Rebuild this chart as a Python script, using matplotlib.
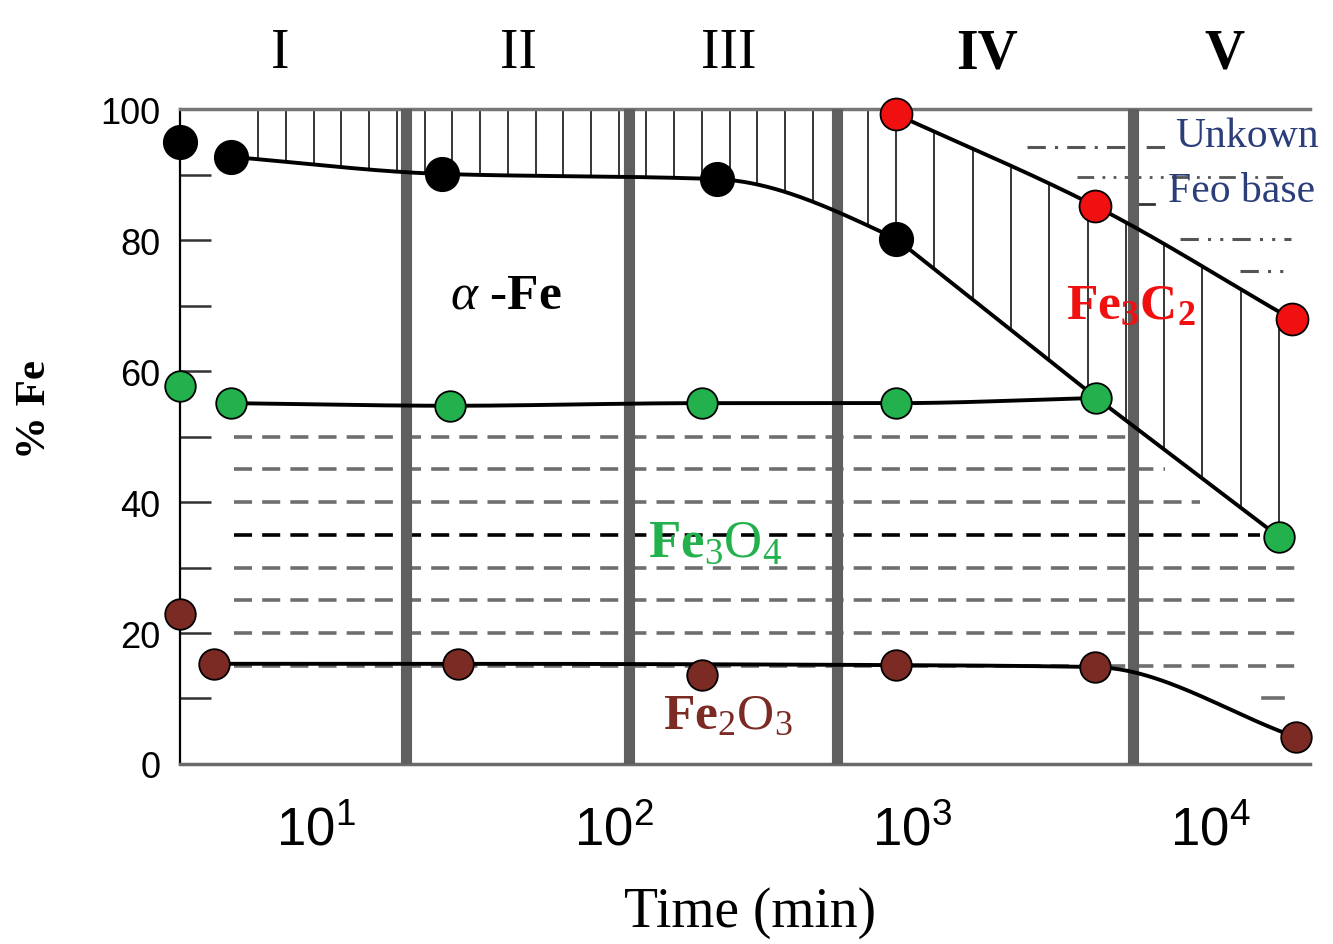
import numpy as np
import matplotlib.pyplot as plt
from matplotlib.ticker import NullLocator
from matplotlib.transforms import blended_transform_factory

# --- data (time in min, % Fe) ---
black_t = [3.5, 5.2, 26.5, 222, 884]
black_fe = [95.0, 92.7, 90.1, 89.3, 80.2]

red_t = [884, 4110, 18800]
red_fe = [99.2, 85.2, 67.9]

green_t = [3.5, 5.2, 28.2, 197, 884, 4150, 17000]
green_fe = [57.7, 55.1, 54.7, 55.1, 55.1, 55.9, 34.7]

brown_t = [3.5, 4.55, 30, 197, 884, 4110, 19400]
brown_fe = [22.9, 15.3, 15.3, 13.6, 15.1, 14.8, 4.1]

region_bounds = [20, 112, 560, 5500]
region_labels = ["I", "II", "III", "IV", "V"]
region_label_t = [7.6, 47.7, 243, 1780, 11200]

dash_levels = [50, 45, 40, 35, 30, 25, 20, 15]
dash_end_t = [5500, 7070, 9260, 14700, 19300, 19300, 19300, 19300]

GREEN = "#22b14c"
RED = "#f01010"
BROWN = "#7b2a24"
BAR = "#5f5f5f"
SERIF = "Liberation Serif"


def pchip(x, y, xn):
    # monotone cubic through points, in log-time
    x = np.log10(np.asarray(x, float))
    y = np.asarray(y, float)
    xn = np.log10(np.asarray(xn, float))
    h = np.diff(x)
    d = np.diff(y) / h
    m = np.zeros(len(x))
    m[0], m[-1] = d[0], d[-1]
    for k in range(1, len(x) - 1):
        if d[k - 1] * d[k] > 0:
            w1 = 2 * h[k] + h[k - 1]
            w2 = h[k] + 2 * h[k - 1]
            m[k] = (w1 + w2) / (w1 / d[k - 1] + w2 / d[k])
    i = np.clip(np.searchsorted(x, xn) - 1, 0, len(x) - 2)
    s = (xn - x[i]) / h[i]
    h00 = 2 * s**3 - 3 * s**2 + 1
    h10 = s**3 - 2 * s**2 + s
    h01 = -2 * s**3 + 3 * s**2
    h11 = s**3 - s**2
    return h00 * y[i] + h10 * h[i] * m[i] + h01 * y[i + 1] + h11 * h[i] * m[i + 1]


def alpha_curve(t_pts, fe_pts, xn):
    # smooth up to the 10^3 point, straight segments after it
    xn = np.asarray(xn, float)
    k = 4
    out = pchip(t_pts[:k + 1], fe_pts[:k + 1], np.minimum(xn, t_pts[k]))
    lin = np.interp(np.log10(xn), np.log10(t_pts[k - 1:]), fe_pts[k - 1:])
    return np.where(xn > t_pts[k - 1], lin, out)


plt.rcParams["font.family"] = ["Liberation Sans", "DejaVu Sans"]
plt.rcParams["mathtext.fontset"] = "custom"
plt.rcParams["mathtext.rm"] = SERIF
plt.rcParams["mathtext.it"] = SERIF + ":italic"
plt.rcParams["mathtext.bf"] = SERIF + ":bold"
plt.rcParams["mathtext.sf"] = "Liberation Sans"

fig = plt.figure(figsize=(13.33, 9.45), dpi=100)
ax = fig.add_axes([0.135, 0.1905, 0.848, 0.693])
ax.set_xscale("log")
ax.set_xlim(3.5, 21670)
ax.set_ylim(0, 100)

# curves
alpha_t = black_t[1:] + green_t[-2:]
alpha_fe = black_fe[1:] + green_fe[-2:]
tt = np.geomspace(alpha_t[0], alpha_t[-1], 400)
ax.plot(tt, alpha_curve(alpha_t, alpha_fe, tt), color="k", lw=2.8, zorder=4)

tt = np.geomspace(red_t[0], red_t[-1], 200)
ax.plot(tt, pchip(red_t, red_fe, tt), color="k", lw=2.8, zorder=4)

tt = np.geomspace(green_t[1], green_t[-2], 300)
ax.plot(tt, pchip(green_t[1:-1], green_fe[1:-1], tt), color="k", lw=2.8, zorder=4)

b_idx = [1, 2, 4, 5, 6]
bt = [brown_t[i] for i in b_idx]
bf = [brown_fe[i] for i in b_idx]
tt = np.geomspace(bt[0], bt[-1], 300)
ax.plot(tt, pchip(bt, bf, tt), color="k", lw=2.8, zorder=4)

# vertical hatching
hx = np.geomspace(6.4, 884, 24)[:-1]
ax.vlines(hx, alpha_curve(alpha_t, alpha_fe, hx), 100, color="k", lw=1.1, zorder=2)
hx = np.geomspace(884, 17000, 11)
ax.vlines(hx, alpha_curve(alpha_t, alpha_fe, hx), pchip(red_t, red_fe, hx),
          color="k", lw=1.1, zorder=2)

# dashed levels
for lvl, end in zip(dash_levels, dash_end_t):
    c = "k" if lvl == 35 else "#6e6e6e"
    ax.plot([5.3, end], [lvl, lvl], ls=(0, (5, 2.8)), lw=2.6, color=c, zorder=1)
ax.plot([15000, 17500], [10, 10], color="#6e6e6e", lw=2.6, zorder=1)

# faint legend remnants top right
ax.plot([2430, 7400], [94.2, 94.2], ls=(0, (6, 3, 1, 3)), color="#555555", lw=2.2, zorder=1)
ax.plot([3570, 18600], [89.6, 89.6], ls=(0, (6, 3, 1, 3, 1, 3)), color="#555555", lw=2.0, zorder=1)
ax.plot([5500, 6500], [85.5, 85.5], color="#333333", lw=2.0, zorder=1)
ax.plot([7930, 18600], [80.2, 80.2], ls=(0, (6, 3, 1, 3, 1, 3)), color="#555555", lw=2.2, zorder=1)
ax.plot([12600, 18600], [75.3, 75.3], ls=(0, (6, 3, 1, 3, 1, 3)), color="#555555", lw=2.2, zorder=1)
ax.text(7600, 96.0, "Unkown", family=SERIF, fontsize=30, color="#2c3e7a",
        ha="left", va="center", clip_on=False, zorder=3)
ax.text(7200, 87.5, "Feo base", family=SERIF, fontsize=30, color="#2c3e7a",
        ha="left", va="center", clip_on=False, zorder=3)

# region separators
for b in region_bounds:
    ax.axvline(b, color=BAR, lw=8, zorder=3)

# markers
mk = dict(ls="none", marker="o", mec="k", mew=1.3, clip_on=False, zorder=6)
ax.plot(black_t, black_fe, ms=24, mfc="k", **mk)
ax.plot(red_t, red_fe, ms=23, mfc=RED, **mk)
ax.plot(green_t, green_fe, ms=22, mfc=GREEN, **mk)
ax.plot(brown_t, brown_fe, ms=22, mfc=BROWN, **mk)

# region labels
trans = blended_transform_factory(ax.transData, ax.transAxes)
for lab, t in zip(region_labels, region_label_t):
    w = "bold" if lab in ("IV", "V") else "normal"
    ax.text(t, 1.085, lab, transform=trans, family=SERIF, fontsize=40,
            weight=w, ha="center", va="center")

# phase labels
ax.text(43.5, 71.5, r"$\alpha$ -Fe", family=SERIF, weight="bold", fontsize=37,
        ha="center", va="center", zorder=7)
ax.text(5430, 70.2, r"$\mathbf{Fe_3C_2}$", color=RED, fontsize=37,
        ha="center", va="center", zorder=7)
ax.text(219, 34.0, r"$\mathbf{Fe}_3\mathrm{O}_4$", color=GREEN, fontsize=38,
        ha="center", va="center", zorder=7)
ax.text(241, 7.5, r"$\mathbf{Fe}_2\mathrm{O}_3$", color=BROWN, fontsize=37,
        ha="center", va="center", zorder=7)

# axes styling
ax.spines["right"].set_visible(False)
ax.spines["top"].set_color("#777777")
ax.spines["top"].set_linewidth(2.5)
ax.spines["bottom"].set_color("#6a6a6a")
ax.spines["bottom"].set_linewidth(2.5)
ax.spines["left"].set_linewidth(1.6)

ax.set_xticks([10, 100, 1000, 10000])
ax.set_xticklabels([r"$\mathsf{10^{%d}}$" % k for k in range(1, 5)])
ax.xaxis.set_minor_locator(NullLocator())
ax.tick_params(axis="x", length=0, pad=30, labelsize=38)

ax.set_yticks(range(0, 101, 20))
ax.set_yticks(range(10, 100, 20), minor=True)
ax.tick_params(axis="y", which="both", direction="in", length=22, width=1.8,
               color="#333333", labelsize=26, pad=14)

fig.text(750 / 1333, 1 - 913 / 945, "Time (min)", family=SERIF, fontsize=40,
         ha="center", va="center")
fig.text(35 / 1333, 1 - 410 / 945, "% Fe", family=SERIF, weight="bold",
         fontsize=31, rotation=90, ha="center", va="center")

fig.savefig("out.png", dpi=100)
